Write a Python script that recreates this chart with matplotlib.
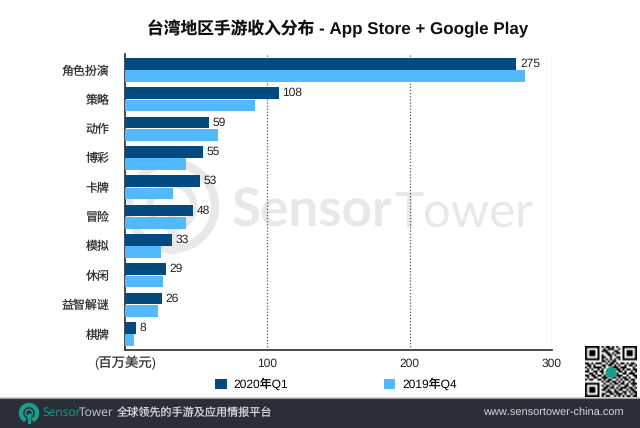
import numpy as np
import matplotlib
matplotlib.use('Agg')
import matplotlib.pyplot as plt
from matplotlib.patches import Circle, Rectangle, Wedge

plt.rcParams['font.family'] = ['Liberation Sans', 'Noto Sans CJK SC']
plt.rcParams['text.hinting'] = 'no_hinting'
plt.rcParams['text.hinting_factor'] = 1

categories = ['角色扮演', '策略', '动作', '博彩', '卡牌', '冒险', '模拟', '休闲', '益智解谜', '棋牌']
q1_2020 = [275, 108, 59, 55, 53, 48, 33, 29, 26, 8]
q4_2019 = [281, 91, 65, 43, 34, 43, 25, 27, 23, 6]
x_ticks = [100, 200, 300]

color_q1 = '#024a7f'
color_q4 = '#52bafc'
color_footer = '#2a2e39'
color_water = '#e8e8e8'

W, H = 640, 428

# QR code, roughly copied by eye
qr_rows = [
    '1111111010110101001111111',
    '1000001001011100101000001',
    '1011101011100011001011101',
    '1011101000110101101011101',
    '1011101010011010001011101',
    '1000001011001001101000001',
    '1111111010101010101111111',
    '0000000011010110000000000',
    '1101011100101101011010110',
    '0110100011011010100101101',
    '1010111101000111011100010',
    '0101001010000001101011011',
    '1100110110000000110100101',
    '0011010010000001001101110',
    '1101101101000001110010011',
    '0100110011100110101101001',
    '1011001101011001010110110',
    '0000000010110110101001010',
    '1111111001001011011010111',
    '1000001010110100100110010',
    '1011101001101101011101101',
    '1011101011010010110010110',
    '1011101000111011001101011',
    '1000001011001101110100101',
    '1111111010110010101011011',
]


def fx(px):
    return px / W


def fy(py):
    return 1 - py / H


fig = plt.figure(figsize=(6.4, 4.28), dpi=100, facecolor='white')

# watermark goes behind everything
bg = fig.add_axes([0, 0, 1, 1], zorder=0)
bg.set_xlim(0, W)
bg.set_ylim(H, 0)
bg.axis('off')
bg.add_patch(Circle((172, 206), 43, fill=False, ec=color_water, lw=6))
bg.add_patch(Circle((172, 206), 22, fill=False, ec=color_water, lw=5))
bg.add_patch(Rectangle((168, 206), 8, 47, color=color_water))
bg.text(232, 227, 'Sensor', fontsize=38, fontfamily='Lato', fontweight='bold',
        color=color_water, va='baseline', ha='left')
bg.text(394, 227, 'Tower', fontsize=35, fontfamily='Lato',
        color=color_water, va='baseline', ha='left')

# footer band
bg.add_patch(Rectangle((0, 398), W, 30, color=color_footer, zorder=3))
bg.plot([0, W], [398, 398], color='#9a9a9a', lw=0.8, zorder=3)
bg.add_patch(Wedge((29, 413), 9.5, 120, 60, width=3, color='#1d9c8e', zorder=4))
bg.add_patch(Circle((29, 413), 3.5, fill=False, ec='#1d9c8e', lw=1.2, zorder=4))
bg.add_patch(Rectangle((28, 414), 2, 9, color='#1d9c8e', zorder=4))
bg.text(42, 413, 'Sensor', fontsize=8.8, fontfamily='Open Sans', color='#1d9c8e', va='center', zorder=4)
bg.text(79, 413, 'Tower', fontsize=8.8, fontfamily='Open Sans', color='#c9ccd0', va='center', zorder=4)
bg.text(117, 413, '全球领先的手游及应用情报平台', fontsize=8, color='#d5d7da', va='center', zorder=4)
bg.text(624, 413, 'www.sensortower-china.com', fontsize=8.2, color='#d5d7da', va='center', ha='right', zorder=4)

# main chart
ax = fig.add_axes([fx(125), fy(350), fx(552) - fx(125), fy(54) - fy(350)], zorder=1)
ax.patch.set_alpha(0)
y = np.arange(len(categories))
ax.barh(y - 0.21, q1_2020, height=0.39, color=color_q1, label='2020年Q1', zorder=3)
ax.barh(y + 0.21, q4_2019, height=0.39, color=color_q4, label='2019年Q4', zorder=3)
for i, v in enumerate(q1_2020):
    ax.text(v + 2.5, i - 0.21, str(v), va='center', ha='left', fontsize=8.8, color='#222222', zorder=4)

ax.set_xlim(0, 300)
ax.set_ylim(9.545, -0.545)
ax.set_yticks(y)
ax.set_yticklabels(categories, fontsize=8.6, color='#333333')
ax.set_xticks(x_ticks)
ax.set_xticklabels([str(t) for t in x_ticks], fontsize=8.8, color='#222222')
ax.tick_params(axis='y', length=0, pad=11)
ax.tick_params(axis='x', length=0, pad=6)
ax.grid(axis='x', color='#555555', linestyle=(0, (1, 1.5)), linewidth=0.9, zorder=2)
ax.set_axisbelow(False)
for side in ['top', 'right']:
    ax.spines[side].set_visible(False)
for side in ['left', 'bottom']:
    ax.spines[side].set_color('#3a3a3a')
    ax.spines[side].set_linewidth(1.3)
ax.text(0, -0.045, '(百万美元)', transform=ax.transAxes, ha='center', va='center',
        fontsize=9.6, color='#333333')

fig.text(fx(338), fy(29), '台湾地区手游收入分布 - App Store + Google Play',
         ha='center', va='center', fontsize=12.05, fontweight='bold', color='#111111')

leg = fig.legend(loc='center left', bbox_to_anchor=(fx(215), fy(384)), ncol=2, frameon=False,
                 fontsize=8.6, handlelength=0.97, handleheight=0.97, handletextpad=0.58,
                 columnspacing=8.0, borderpad=0, borderaxespad=0)

# QR code
qr = np.array([[int(c) for c in row] for row in qr_rows])
qr_ax = fig.add_axes([fx(585), fy(397), 52 / W, 51 / H], zorder=2)
qr_ax.imshow(1 - qr, cmap='gray', interpolation='bilinear', aspect='auto')
qr_ax.axis('off')
qr_ax.add_patch(Circle((12, 12.5), 2.4, color='#1d9c8e'))

fig.savefig('out.png', dpi=100)
